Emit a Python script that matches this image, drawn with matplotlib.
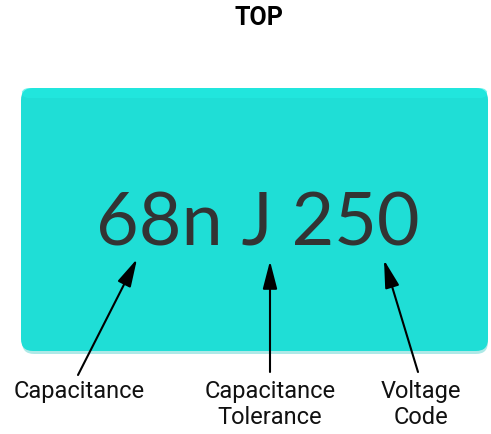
import matplotlib
matplotlib.use('Agg')
import matplotlib.pyplot as plt
from matplotlib.patches import FancyBboxPatch

# 标签与内容
title = 'TOP'
marking = '68n J 250'
labels = ['Capacitance', 'Capacitance\nTolerance', 'Voltage\nCode']
# 箭头尾部(标签处)与箭头尖端(像素坐标)
arrow_tails = [(78, 375), (270, 372), (418, 372)]
arrow_tips = [(137, 259), (270, 261), (384, 260)]
label_pos = [(79, 380), (270, 380), (421, 380)]

W, H = 491, 434
fig = plt.figure(figsize=(W / 100, H / 100), dpi=100)
ax = fig.add_axes([0, 0, 1, 1])
ax.set_xlim(0, W)
ax.set_ylim(H, 0)
ax.axis('off')

# 阴影 + 主体
shadow = FancyBboxPatch((22, 92), 466, 262, boxstyle='round,pad=0,rounding_size=12',
                        facecolor='#19c2bb', edgecolor='none', alpha=0.35, zorder=1)
ax.add_patch(shadow)
box = FancyBboxPatch((21, 88), 467, 263, boxstyle='round,pad=0,rounding_size=12',
                     facecolor='#1fded6', edgecolor='none', zorder=2)
ax.add_patch(box)
top_band = FancyBboxPatch((21, 88), 467, 10, boxstyle='round,pad=0,rounding_size=8',
                          facecolor='#23ece3', edgecolor='none', alpha=0.6, zorder=2)
ax.add_patch(top_band)

ax.text(259, 18, title, ha='center', va='center', fontsize=18,
        fontweight='bold', family='Roboto', color='black')

ax.text(258, 246, marking, ha='center', va='baseline', fontsize=53,
        fontweight='normal', family='Lato', color='#333333', zorder=3)

for (tx, ty), (hx, hy) in zip(arrow_tails, arrow_tips):
    ax.annotate('', xy=(hx, hy), xytext=(tx, ty),
                arrowprops=dict(arrowstyle='-|>,head_length=0.85,head_width=0.22',
                                mutation_scale=20, color='black', lw=1.5,
                                shrinkA=0, shrinkB=0), zorder=4)

for (lx, ly), lab in zip(label_pos, labels):
    ax.text(lx, ly, lab, ha='center', va='top', fontsize=17, family='Roboto',
            color='#111111', linespacing=1.15)

fig.savefig('out.png', dpi=100)
